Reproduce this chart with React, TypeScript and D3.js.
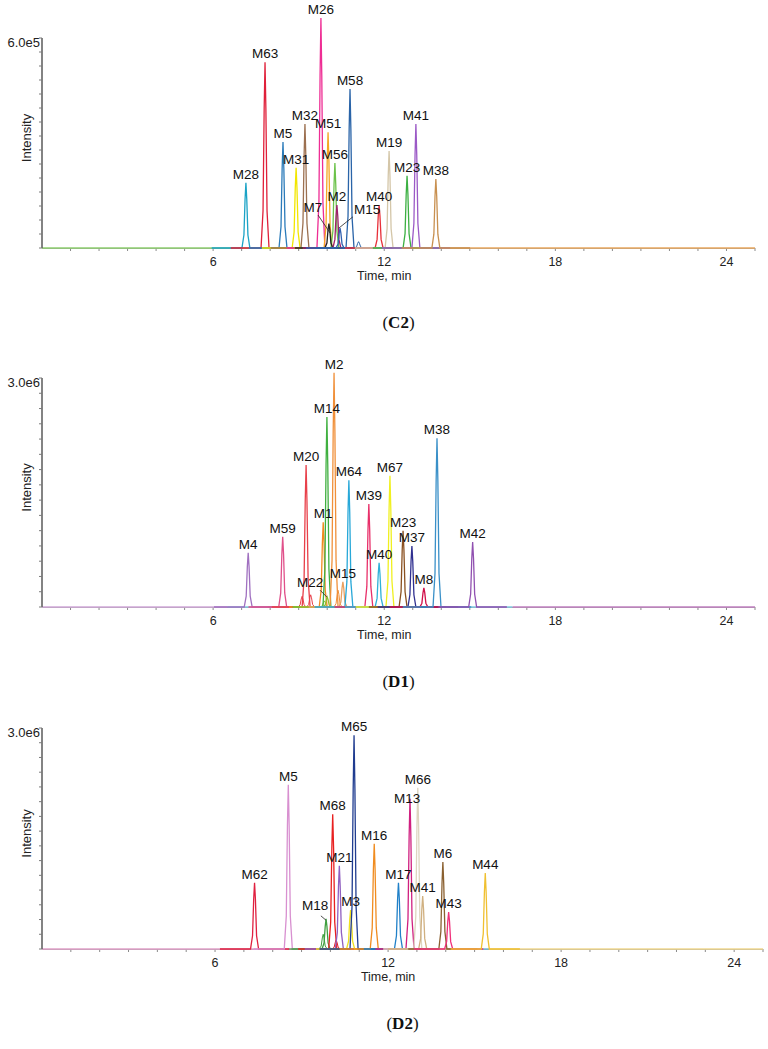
import * as d3 from "d3";

// ---- data ----
const T_MAX = 25;
const X_TICK_LABELS = [6, 12, 18, 24];
const Y_TICK_COUNT = 15;

// (C2)
const c2Names = ["M28", "M63", "M5", "M31", "M32", "M26", "M51", "M56", "M7", "M2", "M15", "M58", "M40", "M19", "M23", "M41", "M38"];
const c2Times = [7.15, 7.82, 8.45, 8.91, 9.22, 9.78, 10.03, 10.27, 10.06, 10.34, 10.45, 10.8, 11.82, 12.17, 12.8, 13.11, 13.81];
const c2Heights = [1.86e5, 5.31e5, 3.03e5, 2.29e5, 3.54e5, 6.57e5, 3.31e5, 2.43e5, 0.7e5, 1.23e5, 0.57e5, 4.54e5, 1.23e5, 2.77e5, 2.06e5, 3.54e5, 1.97e5];
const c2Colors = ["#1ba3c6", "#e0203a", "#2b7bba", "#f2e600", "#9c7050", "#ee2d94", "#f5a623", "#6cc24a", "#222222", "#a0206a", "#3060b0", "#2a64a8", "#e8303a", "#d4c6a8", "#3cb043", "#9b59c6", "#c89050"];
const c2Minor = [{ t: 11.1, v: 0.18e5, color: "#2a64a8" }];
const c2Callouts = [
  { name: "M7", t: 9.5, v: 1.03e5, from: [9.68, 0.94e5], to: [10.1, 0.43e5] },
  { name: "M15", t: 11.4, v: 0.97e5, from: [10.9, 0.89e5], to: [10.41, 0.57e5] },
];
const c2Baseline = [
  { from: 0, to: 7.5, color: "#8fcf70" },
  { from: 7.5, to: 25, color: "#e8a860" },
];

// (D1)
const d1Names = ["M4", "M59", "M20", "M1", "M14", "M2", "M22", "M15", "M64", "M39", "M40", "M67", "M23", "M37", "M8", "M38", "M42"];
const d1Times = [7.23, 8.44, 9.26, 9.86, 9.99, 10.24, 10.0, 10.55, 10.76, 11.46, 11.82, 12.2, 12.66, 12.97, 13.39, 13.85, 15.1];
const d1Heights = [0.71e6, 0.92e6, 1.86e6, 1.11e6, 2.49e6, 3.07e6, 0.13e6, 0.33e6, 1.66e6, 1.35e6, 0.58e6, 1.72e6, 1.0e6, 0.8e6, 0.25e6, 2.21e6, 0.85e6];
const d1Colors = ["#a070c0", "#e0508a", "#e8404a", "#f08a20", "#40b040", "#f0903a", "#90c030", "#e8a060", "#28a8d8", "#e8306a", "#30b0d8", "#f0f020", "#8a5020", "#303090", "#d0104a", "#3a90c8", "#9050b0"];
const d1Minor = [
  { t: 9.12, v: 0.14e6, color: "#e8404a" },
  { t: 9.42, v: 0.16e6, color: "#e8404a" },
  { t: 10.38, v: 0.22e6, color: "#f0903a" },
  { t: 9.9, v: 0.08e6, color: "#90c030" },
];
const d1Callouts = [{ name: "M22", t: 9.4, v: 0.26e6, from: [9.75, 0.22e6], to: [9.99, 0.13e6] }];
const d1Baseline = [
  { from: 0, to: 6.5, color: "#d0a8d8" },
  { from: 6.5, to: 16.5, color: "#80c8e0" },
  { from: 16.5, to: 25, color: "#c080c0" },
];

// (D2)
const d2Names = ["M62", "M5", "M18", "M68", "M21", "M3", "M65", "M16", "M17", "M13", "M66", "M41", "M6", "M43", "M44"];
const d2Times = [7.37, 8.54, 9.85, 10.08, 10.31, 10.7, 10.82, 11.52, 12.36, 12.76, 13.03, 13.2, 13.9, 14.1, 15.37];
const d2Heights = [0.9e6, 2.23e6, 0.41e6, 1.83e6, 1.13e6, 0.53e6, 2.9e6, 1.43e6, 0.9e6, 2.04e6, 2.19e6, 0.72e6, 1.18e6, 0.5e6, 1.03e6];
const d2Colors = ["#e02040", "#d890d0", "#40a040", "#e82020", "#9060c0", "#f0e020", "#203c90", "#f08c20", "#2080c8", "#d02080", "#ddd5c0", "#d0b080", "#8a6030", "#f0307a", "#f0c030"];
const d2Minor = [
  { t: 10.2, v: 0.12e6, color: "#e82020" },
  { t: 9.75, v: 0.2e6, color: "#40a040" },
];
const d2Callouts = [
  { name: "M18", t: 9.47, v: 0.53e6, from: [9.67, 0.45e6], to: [9.85, 0.39e6] },
  { name: "M13", t: 12.66, v: 1.98e6 },
];
const d2Baseline = [
  { from: 0, to: 8.8, color: "#e0a0c8" },
  { from: 8.8, to: 15.5, color: "#70b8d8" },
  { from: 15.5, to: 25, color: "#f0d890" },
];

// relative peak outline (minutes from apex, fraction of height)
const PEAK_SHAPE: [number, number][] = [
  [-0.14, 0], [-0.07, 0.2], [-0.03, 0.75], [0, 1], [0.03, 0.75], [0.07, 0.2], [0.14, 0],
];

const FONT = "'Liberation Sans', Arial, sans-serif";

type Callout = { name: string; t: number; v: number; from?: number[]; to?: number[] };

type Panel = {
  caption: string;
  names: string[];
  times: number[];
  heights: number[];
  colors: string[];
  minor: { t: number; v: number; color: string }[];
  callouts: Callout[];
  baseline: { from: number; to: number; color: string }[];
  yMax: number;
  yLabel: string;
  left: number;
  right: number;
  top: number;
  bottom: number;
};

function Chromatogram(p: Panel) {
  const x = d3.scaleLinear().domain([0, T_MAX]).range([p.left, p.right]);
  const y = d3.scaleLinear().domain([0, p.yMax]).range([p.bottom, p.top]);
  const line = d3
    .line<[number, number]>()
    .x((d) => x(d[0]))
    .y((d) => y(d[1]));

  const peakPath = (t: number, v: number) =>
    line([[t - 1.2, 0], ...PEAK_SHAPE.map(([dt, f]) => [t + dt, f * v] as [number, number]), [t + 1.2, 0]]);

  const callNames = new Set(p.callouts.map((c) => c.name));
  const minorTicks = d3.range(1, T_MAX + 1);
  const yTicks = d3.range(0, Y_TICK_COUNT + 1).map((i) => (p.yMax * i) / Y_TICK_COUNT);
  const mid = (p.left + p.right) / 2;

  return (
    <g fontFamily={FONT}>
      {/* x axis */}
      <line x1={p.left} x2={p.right} y1={p.bottom + 0.5} y2={p.bottom + 0.5} stroke="#9a9a9a" />
      {minorTicks.map((t) => (
        <line key={t} x1={x(t)} x2={x(t)} y1={p.bottom} y2={p.bottom + 3} stroke="#8a8a8a" />
      ))}
      {X_TICK_LABELS.map((t) => (
        <text key={t} x={x(t)} y={p.bottom + 18} textAnchor="middle" fontSize={12.5} fill="#222">
          {t}
        </text>
      ))}
      <text x={x(12)} y={p.bottom + 32} textAnchor="middle" fontSize={12.5} fill="#222">
        Time, min
      </text>

      {/* baseline traces */}
      {p.baseline.map((b, i) => (
        <path key={i} d={line([[b.from, 0], [b.to, 0]]) ?? ""} stroke={b.color} strokeWidth={1.3} fill="none" />
      ))}
      {p.minor.map((m, i) => (
        <path key={i} d={peakPath(m.t, m.v) ?? ""} stroke={m.color} strokeWidth={1} fill="none" />
      ))}
      {p.names.map((n, i) => (
        <path key={n} d={peakPath(p.times[i], p.heights[i]) ?? ""} stroke={p.colors[i]} strokeWidth={1.3} fill="none" />
      ))}

      {/* y axis */}
      <line x1={p.left} x2={p.left} y1={p.top} y2={p.bottom} stroke="#5a5a5a" strokeWidth={1.5} />
      {yTicks.map((v, i) => (
        <line key={i} x1={p.left - 3} x2={p.left} y1={y(v)} y2={y(v)} stroke="#7a7a7a" />
      ))}
      <text x={p.left - 2} y={p.top + 9} textAnchor="end" fontSize={13} fill="#222">
        {p.yLabel}
      </text>
      <text
        transform={`translate(${p.left - 11},${(p.top + p.bottom) / 2 - 5}) rotate(-90)`}
        textAnchor="middle"
        fontSize={13}
        fill="#222"
      >
        Intensity
      </text>

      {/* peak labels */}
      {p.names.map((n, i) =>
        callNames.has(n) ? null : (
          <text key={n} x={x(p.times[i])} y={y(p.heights[i]) - 4} textAnchor="middle" fontSize={13.5} fill="#111">
            {n}
          </text>
        )
      )}
      {p.callouts.map((c) => (
        <g key={c.name}>
          {c.from && c.to ? (
            <line x1={x(c.from[0])} y1={y(c.from[1])} x2={x(c.to[0])} y2={y(c.to[1])} stroke="#222" strokeWidth={0.8} />
          ) : null}
          <text x={x(c.t)} y={y(c.v)} textAnchor="middle" fontSize={13.5} fill="#111">
            {c.name}
          </text>
        </g>
      ))}

      {/* caption */}
      <text x={mid} y={p.bottom + 80} textAnchor="middle" fontSize={17} fontFamily="'Liberation Serif', 'Times New Roman', serif" fill="#111">
        (<tspan fontWeight="bold">{p.caption}</tspan>)
      </text>
    </g>
  );
}

export default function App() {
  return (
    <div style={{ position: "absolute", left: 0, top: 0 }}>
      <svg width={768} height={1049} style={{ display: "block", background: "#fff" }}>
        <Chromatogram
          caption="C2" names={c2Names} times={c2Times} heights={c2Heights} colors={c2Colors}
          minor={c2Minor} callouts={c2Callouts} baseline={c2Baseline}
          yMax={6.0e5} yLabel="6.0e5" left={42} right={755} top={38} bottom={248}
        />
        <Chromatogram
          caption="D1" names={d1Names} times={d1Times} heights={d1Heights} colors={d1Colors}
          minor={d1Minor} callouts={d1Callouts} baseline={d1Baseline}
          yMax={3.0e6} yLabel="3.0e6" left={42} right={755} top={378} bottom={607}
        />
        <Chromatogram
          caption="D2" names={d2Names} times={d2Times} heights={d2Heights} colors={d2Colors}
          minor={d2Minor} callouts={d2Callouts} baseline={d2Baseline}
          yMax={3.0e6} yLabel="3.0e6" left={42} right={763} top={728} bottom={949}
        />
      </svg>
    </div>
  );
}
